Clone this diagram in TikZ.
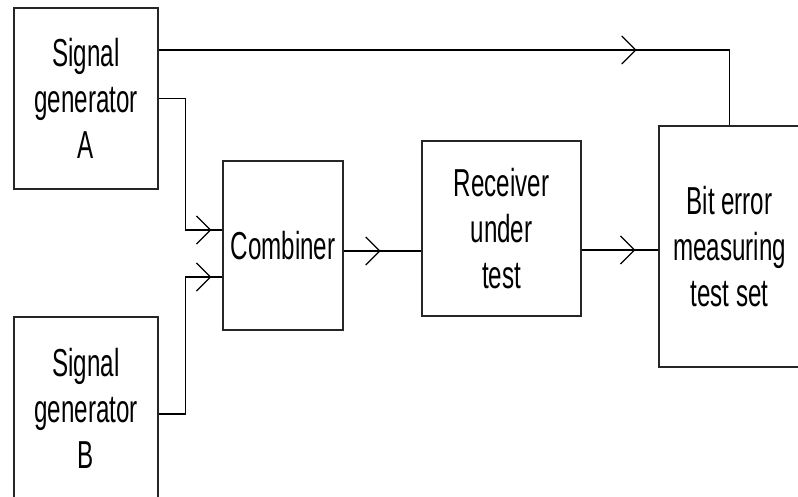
\documentclass[tikz,border=0pt]{standalone}
\usepackage{fontspec}
\setmainfont[FakeStretch=0.62]{Liberation Sans}
\usetikzlibrary{arrows.meta, decorations.markings}

\tikzset{
	unit/.style={draw=black!85, line width=1.3pt, align=center, inner sep=0pt,
		font=\fontsize{39}{46}\selectfont},
	wire/.style={line width=1.3pt},
	chev/.style={postaction={decorate, decoration={markings,
		mark=at position #1 with {\arrow{Straight Barb[length=14pt, width=28pt, line width=1.3pt]}}}}}
}

\begin{document}
\begin{tikzpicture}[x=1pt, y=-1pt]
		\useasboundingbox (0,0) rectangle (798,497);
		% Blocks
		\node[unit, minimum width=144, minimum height=181] (genA) at (86,98.5) {Signal\\generator\\A};
		\node[unit, minimum width=144, minimum height=182] (genB) at (86,408) {Signal\\generator\\B};
		\node[unit, minimum width=120, minimum height=169] (comb) at (283,245.5) {Combiner};
		\node[unit, minimum width=159, minimum height=175] (recv) at (501.5,228.5) {Receiver\\under\\test};
		\node[unit, minimum width=141, minimum height=241] (bit) at (729.5,246.5) {Bit error\\measuring\\test set};
		% Reference path from generator A
		\draw[wire, chev=478pt] ([yshift=48.5]genA.east) -| (bit.north);
		% Into the combiner
		\draw[wire, chev=-11pt] (genA.east) -- ++(27,0) |- ([yshift=15.5]comb.west);
		\draw[wire, chev=-11pt] ([yshift=-6]genB.east) -- ++(27,0) |- ([yshift=-31.5]comb.west);
		% Through the receiver
		\draw[wire, chev=37pt] ([yshift=-5.5]comb.east) -- ([yshift=-5.5]comb.east -| recv.west);
		\draw[wire, chev=-23pt] ([yshift=-21.5]recv.east) -- ([yshift=-21.5]recv.east -| bit.west);
	\end{tikzpicture}
\end{document}
